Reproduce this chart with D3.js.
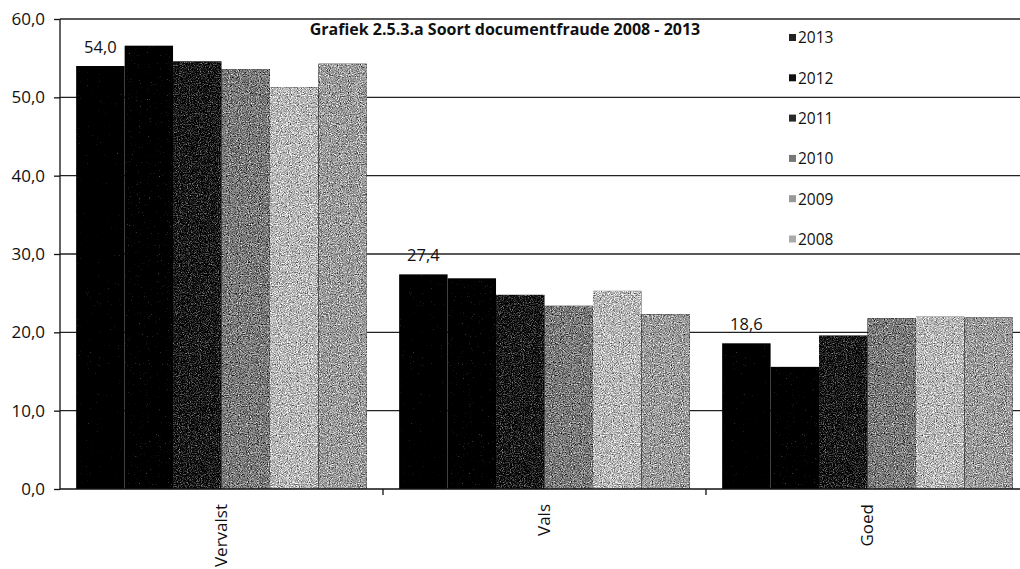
<!DOCTYPE html>
<html>
<head>
<meta charset="utf-8">
<script src="https://cdn.jsdelivr.net/npm/d3@7"></script>
<style>
  body { margin: 0; background: #fff; }
  svg { display: block; }
  text { font-family: "Open Sans", sans-serif; fill: #111; }
</style>
</head>
<body>
<svg id="chart" width="1020" height="569"></svg>
<script>
// data
const categories = ["Vervalst", "Vals", "Goed"];
const years = ["2013", "2012", "2011", "2010", "2009", "2008"];
const values2013 = [54.0, 27.4, 18.6];
const values2012 = [56.6, 26.9, 15.6];
const values2011 = [54.6, 24.8, 19.6];
const values2010 = [53.6, 23.4, 21.8];
const values2009 = [51.3, 25.3, 22.0];
const values2008 = [54.3, 22.3, 21.9];
const yTicks = [0, 10, 20, 30, 40, 50, 60];
const chartTitle = "Grafiek 2.5.3.a Soort documentfraude 2008 - 2013";

const series = [values2013, values2012, values2011, values2010, values2009, values2008];
// base greys, the grain filter pushes them apart into speckles
const fills = ["#282828", "#303030", "#555555", "#7e7e7e", "#989898", "#8c8c8c"];
const swatch = ["#222", "#111", "#2a2a2a", "#777", "#999", "#aaa"];

let margin = {top: 19, right: -9, bottom: 80, left: 60};
let svg = d3.select("#chart");
let width = +svg.attr("width");
let height = +svg.attr("height");

// scan-like grain
let defs = svg.append("defs");
let f = defs.append("filter").attr("id", "grain")
  .attr("x", 0).attr("y", 0).attr("width", 1).attr("height", 1)
  .attr("color-interpolation-filters", "sRGB");
f.append("feTurbulence").attr("type", "fractalNoise").attr("baseFrequency", 0.9)
  .attr("numOctaves", 2).attr("seed", 7).attr("result", "n");
f.append("feColorMatrix").attr("in", "n").attr("type", "matrix")
  .attr("values", "0.33 0.33 0.33 0 0  0.33 0.33 0.33 0 0  0.33 0.33 0.33 0 0  0 0 0 0 1")
  .attr("result", "g");
f.append("feComposite").attr("in", "SourceGraphic").attr("in2", "g")
  .attr("operator", "arithmetic").attr("k1", 0).attr("k2", 1).attr("k3", 1).attr("k4", -0.5)
  .attr("result", "mix");
let ct = f.append("feComponentTransfer").attr("in", "mix").attr("result", "c");
["feFuncR", "feFuncG", "feFuncB"].forEach(fn => {
  ct.append(fn).attr("type", "linear").attr("slope", 2.4).attr("intercept", -0.7);
});
f.append("feComposite").attr("in", "c").attr("in2", "SourceGraphic").attr("operator", "in");

let x0 = d3.scaleBand()
  .domain(categories)
  .range([margin.left, width - margin.right])
  .paddingInner(0.1)
  .paddingOuter(0.05);
let x1 = d3.scaleBand()
  .domain(years)
  .range([0, x0.bandwidth()]);
let y = d3.scaleLinear()
  .domain([0, 60])
  .range([height - margin.bottom, margin.top]);

// gridlines
svg.append("g")
  .selectAll("line")
  .data(yTicks.slice(1))
  .enter()
  .append("line")
  .attr("x1", margin.left).attr("x2", width)
  .attr("y1", d => y(d)).attr("y2", d => y(d))
  .attr("stroke", "#222")
  .attr("stroke-width", 1.3);

// bars
let groups = svg.append("g")
  .selectAll("g")
  .data(categories)
  .enter()
  .append("g")
  .attr("transform", d => "translate(" + x0(d) + ",0)");

groups.selectAll("rect")
  .data((d, ci) => years.map((yr, si) => ({year: yr, s: si, v: series[si][ci]})))
  .enter()
  .append("rect")
  .attr("x", d => x1(d.year))
  .attr("width", x1.bandwidth())
  .attr("y", d => y(d.v))
  .attr("height", d => y(0) - y(d.v))
  .attr("fill", d => fills[d.s])
  .attr("filter", "url(#grain)");

// data labels on the 2013 bars
groups.append("text")
  .attr("x", x1("2013") + x1.bandwidth() / 2)
  .attr("y", (d, ci) => y(values2013[ci]) - 13)
  .attr("text-anchor", "middle")
  .style("font-size", "16.5px")
  .text((d, ci) => d3.format(".1f")(values2013[ci]).replace(".", ","));

// y axis
let yAxis = svg.append("g")
  .attr("transform", "translate(" + margin.left + ",0)")
  .call(d3.axisLeft(y).tickValues(yTicks).tickSize(6).tickPadding(9)
    .tickFormat(d => d3.format(".1f")(d).replace(".", ",")));
yAxis.select(".domain").attr("stroke", "#111").attr("stroke-width", 1.3).attr("d", "M0," + y(60) + "V" + y(0));
yAxis.selectAll(".tick line").attr("stroke", "#111").attr("stroke-width", 1.3);
yAxis.selectAll(".tick text").style("font-size", "17px").style("font-family", "Open Sans").attr("fill", "#111");

// x axis
svg.append("line")
  .attr("x1", margin.left).attr("x2", width)
  .attr("y1", y(0)).attr("y2", y(0))
  .attr("stroke", "#111").attr("stroke-width", 1.3);
svg.append("g")
  .selectAll("line")
  .data(categories.slice(1))
  .enter()
  .append("line")
  .attr("x1", d => x0(d) - x0.step() * x0.paddingInner() / 2)
  .attr("x2", d => x0(d) - x0.step() * x0.paddingInner() / 2)
  .attr("y1", y(0)).attr("y2", y(0) + 6)
  .attr("stroke", "#111").attr("stroke-width", 1.3);

svg.append("g")
  .selectAll("text")
  .data(categories)
  .enter()
  .append("text")
  .attr("transform", d => "translate(" + (x0(d) + x0.bandwidth() / 2) + "," + (y(0) + 15) + ") rotate(-90)")
  .attr("text-anchor", "end")
  .attr("dy", "0.35em")
  .style("font-size", "17px")
  .text(d => d);

// title
svg.append("text")
  .attr("x", 505)
  .attr("y", 35)
  .attr("text-anchor", "middle")
  .style("font-size", "16px")
  .style("font-weight", "bold")
  .text(chartTitle);

// legend
let legend = svg.append("g")
  .selectAll("g")
  .data(years)
  .enter()
  .append("g")
  .attr("transform", (d, i) => "translate(789," + (38 + i * 40.3) + ")");
legend.append("rect")
  .attr("x", 0).attr("y", -4)
  .attr("width", 7).attr("height", 7)
  .attr("fill", (d, i) => swatch[i]);
legend.append("text")
  .attr("x", 9)
  .attr("dy", "0.35em")
  .style("font-size", "15.5px")
  .text(d => d);
</script>
</body>
</html>
